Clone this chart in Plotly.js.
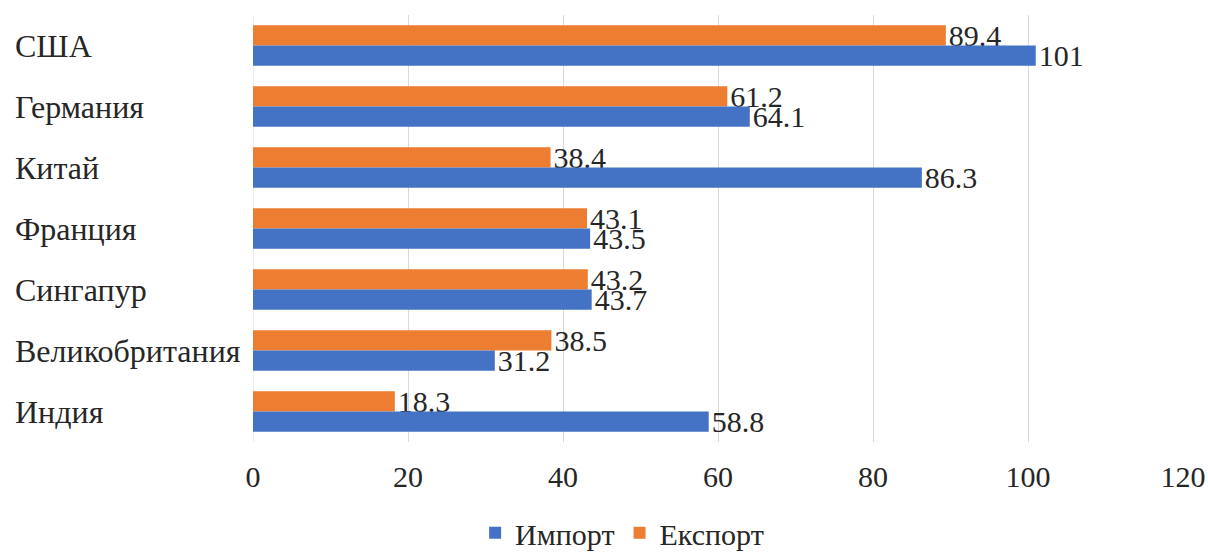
<!DOCTYPE html>
<html>
<head>
<meta charset="utf-8">
<script src="https://cdn.plot.ly/plotly-3.0.1.min.js"></script>
<style>html,body{margin:0;padding:0;background:#fff;}#chart{width:1208px;height:555px;}</style>
</head>
<body>
<div id="chart"></div>
<script>
const countries = ["США", "Германия", "Китай", "Франция", "Сингапур", "Великобритания", "Индия"];
const importValues = [101, 64.1, 86.3, 43.5, 43.7, 31.2, 58.8];
const exportValues = [89.4, 61.2, 38.4, 43.1, 43.2, 38.5, 18.3];
const importName = "Импорт";
const exportName = "Експорт";
const xTicks = [0, 20, 40, 60, 80, 100, 120];

const fontFamily = "Liberation Serif";
const textColor = "#262626";
const fsCat = 32;
const fsNum = 30;

const exportTrace = {
  type: "bar", orientation: "h", name: exportName,
  y: countries, x: exportValues,
  marker: {color: "#ED7D31"},
  text: exportValues.map(String), textposition: "outside", constraintext: "none",
  textfont: {family: fontFamily, size: fsNum, color: textColor},
  cliponaxis: false, legendrank: 2, hoverinfo: "x+name"
};
const importTrace = {
  type: "bar", orientation: "h", name: importName,
  y: countries, x: importValues,
  marker: {color: "#4472C4"},
  text: importValues.map(String), textposition: "outside", constraintext: "none",
  textfont: {family: fontFamily, size: fsNum, color: textColor},
  cliponaxis: false, legendrank: 1, hoverinfo: "x+name"
};

const annotations = countries.map(c => ({
  xref: "paper", yref: "y", x: -240/930, y: c, xanchor: "left", yanchor: "middle",
  text: c, showarrow: false, font: {family: fontFamily, size: fsCat, color: textColor}
}));

const layout = {
  width: 1208, height: 555,
  margin: {l: 253, r: 25, t: 15, b: 113},
  paper_bgcolor: "#fff", plot_bgcolor: "#fff",
  barmode: "group", bargap: 0.34, bargroupgap: 0,
  font: {family: fontFamily, size: fsNum, color: textColor},
  xaxis: {
    range: [0, 120], tickvals: xTicks, ticktext: xTicks.map(String),
    showgrid: true, gridcolor: "#d9d9d9", gridwidth: 1,
    zeroline: false, showline: false,
    ticks: "outside", ticklen: 8, tickcolor: "rgba(0,0,0,0)",
    tickfont: {family: fontFamily, size: fsNum, color: textColor}, fixedrange: true
  },
  yaxis: {
    type: "category", autorange: "reversed",
    showticklabels: false, showgrid: false, zeroline: false,
    showline: false, ticks: "", fixedrange: true
  },
  shapes: [{type: "line", xref: "x", yref: "paper", x0: 0, x1: 0, y0: 0, y1: 1, line: {color: "#d9d9d9", width: 1}, layer: "below"}],
  legend: {
    orientation: "h", xref: "container", yref: "container", x: 0.515, y: 0.04, xanchor: "center", yanchor: "middle",
    font: {family: fontFamily, size: fsNum, color: textColor}, itemwidth: 30
  },
  showlegend: true,
  annotations: annotations
};

Plotly.newPlot("chart", [exportTrace, importTrace], layout, {displayModeBar: false, staticPlot: true});
</script>
</body>
</html>
